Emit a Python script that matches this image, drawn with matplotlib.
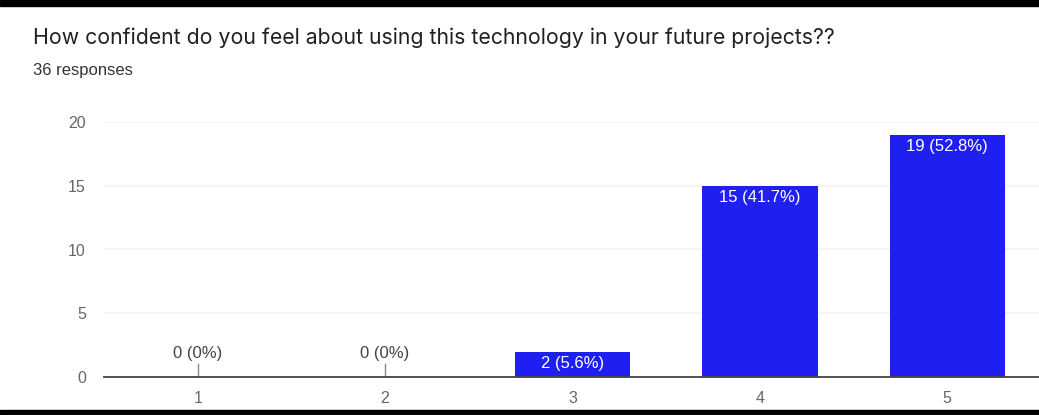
import matplotlib
matplotlib.use('Agg')
import matplotlib.pyplot as plt
from matplotlib.patches import Rectangle

# survey answers
categories = ['1', '2', '3', '4', '5']
counts = [0, 0, 2, 15, 19]
labels = ['0 (0%)', '0 (0%)', '2 (5.6%)', '15 (41.7%)', '19 (52.8%)']
title = 'How confident do you feel about using this technology in your future projects??'
subtitle = '36 responses'

W, H = 1039, 415
fig = plt.figure(figsize=(W/100, H/100), dpi=100)
fig.patch.set_facecolor('white')

ax = fig.add_axes([104/W, 38/H, (1041-104)/W, (293-38)/H])
x = list(range(1, len(categories)+1))
bars = ax.bar(x, counts, width=0.615, color='#1f1ff2', zorder=3)

ax.set_xlim(0.5, 5.5)
ax.set_ylim(0, 20)
ax.set_yticks([0, 5, 10, 15, 20])
ax.set_xticks(x)
ax.set_xticklabels(categories)
ax.tick_params(axis='both', length=0, colors='#666666', labelsize=11.5)
ax.tick_params(axis='y', pad=13)
ax.tick_params(axis='x', pad=10)
for t in ax.get_xticklabels() + ax.get_yticklabels():
    t.set_fontfamily('Liberation Sans')
ax.grid(axis='y', color='#f3f3f3', linewidth=1.2, zorder=0)
for s in ['top', 'right', 'left']:
    ax.spines[s].set_visible(False)
ax.spines['bottom'].set_color('#444444')
ax.spines['bottom'].set_linewidth(1.3)
ax.spines['bottom'].set_zorder(4)

for xi, c, lab in zip(x, counts, labels):
    if c == 0:
        ax.plot([xi, xi], [0, 1.0], color='#888888', linewidth=1, zorder=4)
        ax.text(xi, 1.25, lab, ha='center', va='bottom', fontsize=12,
                color='#444444', family='Liberation Sans')
    else:
        ax.text(xi, c - 0.35, lab, ha='center', va='top', fontsize=12,
                color='white', family='Liberation Sans', zorder=5)

fig.text(33/W, 1 - 38/H, title, fontsize=15.3, family='Inter', color='#202124', va='center')
fig.text(33/W, 1 - 70/H, subtitle, fontsize=12, family='Liberation Sans', color='#333333', va='center')

# black frame bands top and bottom
fig.add_artist(Rectangle((0, 1 - 6/H), 1, 6/H, transform=fig.transFigure, color='black'))
fig.add_artist(Rectangle((0, 0), 1, 5/H, transform=fig.transFigure, color='black'))

fig.savefig('out.png', dpi=100)
